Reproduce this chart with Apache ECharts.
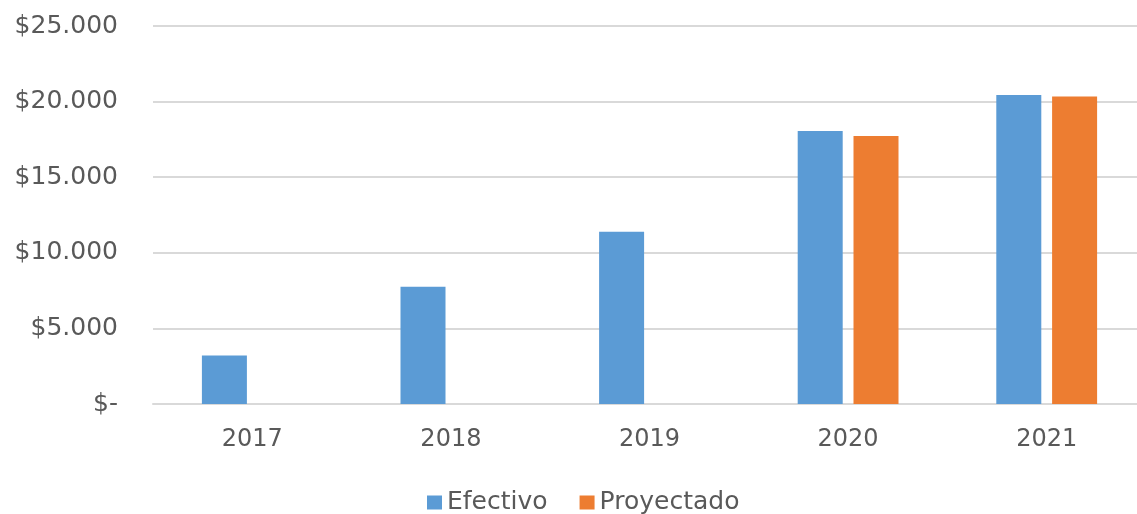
<!DOCTYPE html>
<html>
<head>
<meta charset="utf-8">
<script src="https://cdn.jsdelivr.net/npm/echarts@6/dist/echarts.min.js"></script>
<style>
html,body{margin:0;padding:0;background:#fff;overflow:hidden;width:1137px;height:514px;}
#chart{width:1147px;height:514px;}
</style>
</head>
<body>
<div id="chart"></div>
<script>
const categories = ['2017', '2018', '2019', '2020', '2021'];
const efectivo = [3200, 7750, 11400, 18050, 20430];
const proyectado = [null, null, null, 17720, 20340];
const seriesNames = ['Efectivo', 'Proyectado'];

const chart = echarts.init(document.getElementById('chart'));
const fontFamily = 'Verdana, "DejaVu Sans", sans-serif';
chart.setOption({
  animation: false,
  grid: { left: 153, right: 1, top: 26, bottom: 110, containLabel: false },
  legend: {
    data: seriesNames,
    top: 485,
    left: 422,
    icon: 'rect',
    itemWidth: 15,
    itemHeight: 14,
    itemGap: 32,
    textStyle: { color: '#595959', fontSize: 25, fontFamily: fontFamily }
  },
  xAxis: {
    type: 'category',
    data: categories,
    axisLine: { show: true, lineStyle: { color: '#d9d9d9', width: 2 } },
    axisTick: { show: false },
    axisLabel: { color: '#595959', fontSize: 24, fontFamily: fontFamily, margin: 24 }
  },
  yAxis: {
    type: 'value',
    min: 0,
    max: 25000,
    interval: 5000,
    axisLine: { show: false },
    axisTick: { show: false },
    splitLine: { lineStyle: { color: '#d9d9d9', width: 2 } },
    axisLabel: {
      color: '#595959', fontSize: 25, fontFamily: fontFamily, margin: 35,
      formatter: function (v) {
        if (v === 0) return '$-';
        return '$' + v.toString().replace(/\B(?=(\d{3})+(?!\d))/g, '.');
      }
    }
  },
  series: [
    { name: seriesNames[0], type: 'bar', data: efectivo, barWidth: 45, barGap: '24%',
      itemStyle: { color: '#5b9bd5' } },
    { name: seriesNames[1], type: 'bar', data: proyectado, barWidth: 45,
      itemStyle: { color: '#ed7d31' } }
  ]
});
</script>
</body>
</html>
